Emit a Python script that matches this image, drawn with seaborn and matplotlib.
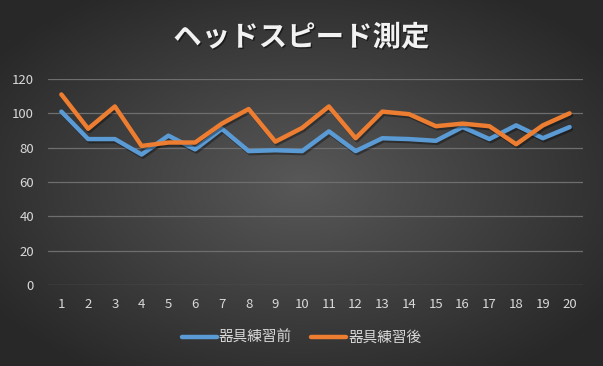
import numpy as np
import pandas as pd
import matplotlib
matplotlib.use("Agg")
import matplotlib.pyplot as plt
import matplotlib.patheffects as pe
import seaborn as sns

# data
trials = list(range(1, 21))
before = [101, 85, 85, 76, 87, 79, 91, 78, 78.5, 78, 89.5, 78, 85.5, 85, 84, 92, 85, 93, 85.5, 92]
after = [111, 91, 104, 81, 83, 83, 94, 102.5, 83.5, 91.5, 104, 85.5, 101, 99.5, 92.5, 94, 92.5, 82, 93, 100]
series_names = ["器具練習前", "器具練習後"]
colors = ["#5B9BD5", "#ED7D31"]
y_ticks = [0, 20, 40, 60, 80, 100, 120]

df = pd.DataFrame({
    "回": trials * 2,
    "速度": before + after,
    "系列": [series_names[0]] * 20 + [series_names[1]] * 20,
})

sns.set_theme(style="dark")
plt.rcParams["font.family"] = ["Noto Sans CJK JP", "DejaVu Sans"]

W, H = 603, 366
fig = plt.figure(figsize=(W / 100, H / 100), dpi=100)

# radial gradient background
bg = fig.add_axes([0, 0, 1, 1])
yy, xx = np.mgrid[0:H, 0:W]
r = np.sqrt(((xx - W * 0.5) / (W * 0.62)) ** 2 + ((yy - H * 0.5) / (H * 0.62)) ** 2)
r = np.clip(r, 0, 1)
c0, c1 = 0x58 / 255, 0x28 / 255
img = c0 + (c1 - c0) * r
bg.imshow(np.dstack([img, img, img]), aspect="auto", extent=[0, 1, 0, 1])
bg.set_axis_off()

ax = fig.add_axes([48 / W, 1 - 285 / H, (583 - 48) / W, (285 - 79) / H])
ax.set_facecolor("none")

sns.lineplot(data=df, x="回", y="速度", hue="系列", palette=colors,
             linewidth=3.2, ax=ax, legend=False)
for line in ax.lines:
    line.set_solid_capstyle("round")
    line.set_solid_joinstyle("round")
    line.set_path_effects([pe.SimpleLineShadow(offset=(1, -1.5), shadow_color="black", alpha=0.35),
                           pe.Normal()])

ax.set_xlim(0.5, 20.5)
ax.set_ylim(0, 120)
ax.set_yticks(y_ticks)
ax.set_xticks(trials)
ax.grid(axis="y", color="#6e6e6e", linewidth=0.9)
ax.grid(axis="x", visible=False)
for s in ax.spines.values():
    s.set_visible(False)
ax.tick_params(axis="both", colors="#d9d9d9", labelsize=9.5, length=0)
ax.tick_params(axis="y", pad=10)
ax.tick_params(axis="x", pad=9)
ax.set_xlabel("")
ax.set_ylabel("")

fig.text(0.5, 1 - 38 / H, "ヘッドスピード測定", ha="center", va="center",
         fontsize=20.5, fontweight="bold", color="#f2f2f2",
         path_effects=[pe.withSimplePatchShadow(offset=(1, -1), shadow_rgbFace="black", alpha=0.5)])

handles = [plt.Line2D([0], [0], color=c, linewidth=3.2, solid_capstyle="round") for c in colors]
fig.legend(handles, series_names, loc="center", bbox_to_anchor=(0.5, 1 - 338 / H),
           ncol=2, frameon=False, fontsize=10.5, labelcolor="#d9d9d9",
           handlelength=2.4, handletextpad=0.15, columnspacing=1.3)

fig.savefig("out.png", dpi=100)
